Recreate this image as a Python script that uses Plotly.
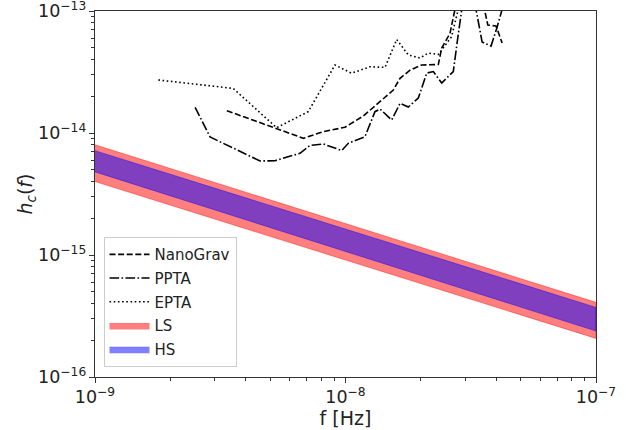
import plotly.graph_objects as go

# ---- Data ----
nano_f = [3.36e-9, 6.79e-9, 8.15e-9, 9.95e-9, 1.178e-8, 1.373e-8, 1.552e-8, 1.651e-8,
          1.809e-8, 2.015e-8, 2.347e-8, 2.421e-8, 2.613e-8, 2.80e-8, 3.50e-8, 3.70e-8,
          3.99e-8, 4.22e-8]
nano_h = [1.524e-14, 9.05e-15, 1.025e-14, 1.114e-14, 1.378e-14, 1.805e-14, 2.25e-14, 2.81e-14,
          3.27e-14, 3.61e-14, 3.64e-14, 4.97e-14, 6.56e-14, 1.3e-13, 1.3e-13, 7.68e-14,
          7.53e-14, 5.47e-14]

ppta_f = [2.51e-9, 2.88e-9, 4.56e-9, 5.23e-9, 6.58e-9, 7.22e-9, 8.15e-9, 9.66e-9, 1.026e-8,
          1.108e-8, 1.196e-8, 1.311e-8, 1.373e-8, 1.529e-8, 1.651e-8, 1.781e-8, 1.953e-8,
          2.110e-8, 2.242e-8, 2.421e-8, 2.694e-8, 2.820e-8, 2.96e-8, 3.25e-8, 3.51e-8,
          3.81e-8, 4.02e-8, 4.40e-8]
ppta_h = [1.624e-14, 9.27e-15, 5.90e-15, 5.93e-15, 6.82e-15, 7.90e-15, 8.13e-15, 7.19e-15, 8.23e-15,
          8.77e-15, 9.33e-15, 1.495e-14, 1.573e-14, 1.278e-14, 1.751e-14, 1.633e-14, 1.936e-14,
          3.10e-14, 3.19e-14, 2.57e-14, 3.19e-14, 6.48e-14, 1.3e-13, 1.3e-13, 5.57e-14,
          5.16e-14, 7.26e-14, 1.4e-13]

epta_f = [1.79e-9, 3.56e-9, 5.31e-9, 7.10e-9, 9.08e-9, 1.058e-8, 1.253e-8, 1.438e-8, 1.601e-8,
          1.781e-8, 1.984e-8, 2.141e-8, 2.347e-8, 2.457e-8, 2.65e-8, 2.90e-8]
epta_h = [2.72e-14, 2.32e-14, 1.105e-14, 1.495e-14, 3.61e-14, 3.09e-14, 3.49e-14, 3.45e-14, 5.84e-14,
          4.36e-14, 4.12e-14, 4.52e-14, 4.40e-14, 4.97e-14, 6.15e-14, 1.3e-13]

band_f = [1e-9, 1e-7]
ls_upper = [8.0e-15, 4.09e-16]
ls_lower = [4.0e-15, 2.07e-16]
hs_upper = [7.16e-15, 3.72e-16]
hs_lower = [4.8e-15, 2.38e-16]

FONT = "DejaVu Sans"

fig = go.Figure()

# Bands (drawn as closed polygons)
fig.add_trace(go.Scatter(
    x=band_f + band_f[::-1], y=ls_upper + ls_lower[::-1],
    fill="toself", fillcolor="rgba(255,0,0,0.5)", mode="lines",
    line=dict(width=0.8, color="rgba(255,0,0,0.5)"), name="LS", legendrank=4,
    legendgroup="g4", hoverinfo="skip"))
fig.add_trace(go.Scatter(
    x=band_f + band_f[::-1], y=hs_upper + hs_lower[::-1],
    fill="toself", fillcolor="rgba(0,0,255,0.5)", mode="lines",
    line=dict(width=0.8, color="rgba(0,0,255,0.5)"), name="HS", legendrank=5,
    legendgroup="g5", hoverinfo="skip"))

# Sensitivity curves
fig.add_trace(go.Scatter(x=nano_f, y=nano_h, mode="lines", name="NanoGrav", legendrank=1,
                         legendgroup="g1",
                         line=dict(color="black", width=1.6, dash="6px,2.6px")))
fig.add_trace(go.Scatter(x=ppta_f, y=ppta_h, mode="lines", name="PPTA", legendrank=2,
                         legendgroup="g2",
                         line=dict(color="black", width=1.6, dash="9.6px,2.4px,1.6px,2.4px")))
fig.add_trace(go.Scatter(x=epta_f, y=epta_h, mode="lines", name="EPTA", legendrank=3,
                         legendgroup="g3",
                         line=dict(color="black", width=1.6, dash="1.6px,2.6px")))

axis_common = dict(
    type="log", showgrid=False, zeroline=False, automargin=False,
    showline=True, linecolor="#333", linewidth=1, mirror=True,
    ticks="outside", ticklen=5, tickwidth=1, tickcolor="#333",
    dtick=1, exponentformat="power", ticklabeloverflow="allow",
    minor=dict(ticks="outside", ticklen=3, tickwidth=0.8, tickcolor="#333", showgrid=False),
    tickfont=dict(family=FONT, size=14, color="#222"),
)

fig.update_layout(
    width=626, height=430,
    margin=dict(l=95, r=30, t=11, b=53),
    paper_bgcolor="white", plot_bgcolor="white",
    font=dict(family=FONT, color="#222"),
    xaxis=dict(axis_common, range=[-9, -7],
               title=dict(text="f [Hz]", font=dict(family=FONT, size=19), standoff=2)),
    yaxis=dict(axis_common, range=[-16, -13],
               title=dict(text="<i>h<sub>c</sub></i>(<i>f</i>)", font=dict(family=FONT, size=19),
                          standoff=0)),
    legend=dict(x=0.017, y=0.027, xanchor="left", yanchor="bottom",
                bgcolor="rgba(255,255,255,0.8)", bordercolor="#ccc", borderwidth=1,
                font=dict(family=FONT, size=15, color="#222"),
                traceorder="grouped", tracegroupgap=1.2,
                itemwidth=40),
    showlegend=True,
)

fig.write_html("out.html")
